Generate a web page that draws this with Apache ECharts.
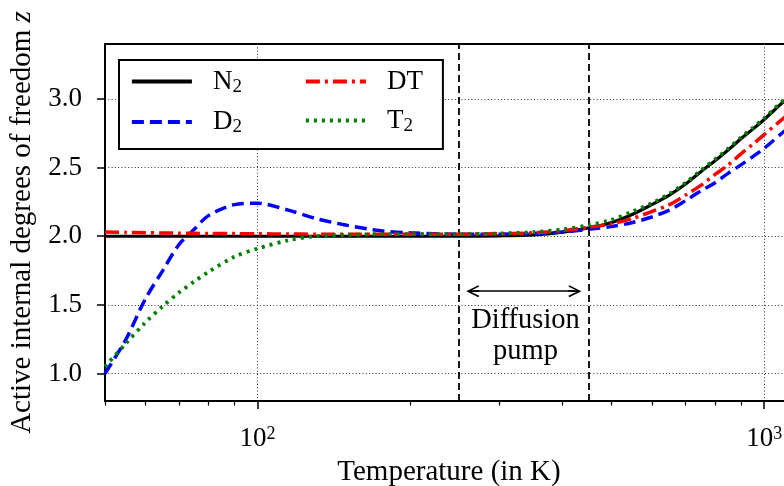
<!DOCTYPE html>
<html>
<head>
<meta charset="utf-8">
<script src="https://cdn.jsdelivr.net/npm/echarts@6/dist/echarts.min.js"></script>
<style>
html,body{margin:0;padding:0;background:#fff;overflow:hidden;}
#chart{width:830px;height:486px;}
</style>
</head>
<body>
<div id="chart"></div>
<script>
// ---- data ----
const temps = [50,55,60,65,70,75,80,90,100,115,130,150,175,200,250,300,350,400,450,500,550,600,650,700,750,800,850,900,950,1000,1100,1200];
const n2 = [2.0,2.0,2.0,2.0,2.0,2.0,2.0,2.0,2.0,2.0,2.0,2.0,2.0,2.0,2.0,2.003,2.01,2.03,2.06,2.10,2.16,2.23,2.30,2.38,2.47,2.55,2.63,2.71,2.78,2.85,2.99,3.10];
const d2 = [1.00,1.25,1.54,1.75,1.94,2.05,2.15,2.23,2.24,2.19,2.13,2.08,2.04,2.025,2.015,2.015,2.02,2.03,2.05,2.07,2.10,2.14,2.19,2.26,2.33,2.39,2.46,2.52,2.58,2.64,2.77,2.88];
const dt = [2.03,2.028,2.026,2.024,2.022,2.021,2.02,2.019,2.018,2.016,2.015,2.015,2.015,2.015,2.015,2.018,2.025,2.04,2.065,2.09,2.13,2.18,2.23,2.30,2.37,2.45,2.52,2.60,2.67,2.74,2.87,2.98];
const t2 = [1.05,1.22,1.37,1.49,1.59,1.67,1.74,1.85,1.91,1.97,2.00,2.01,2.015,2.015,2.015,2.02,2.03,2.05,2.08,2.12,2.18,2.24,2.31,2.39,2.48,2.56,2.64,2.72,2.79,2.86,3.00,3.11];
const yTicks = [1.0,1.5,2.0,2.5,3.0];
const xMajor = [100,1000];
const xMinor = [50,60,70,80,90,200,300,400,500,600,700,800,900];
const pumpBounds = [250,450];
const arrowFrom = [266,1.6], arrowTo = [423,1.6];
const pumpTextPos = [338,1.27];
const xRange = [50,1140], yRange = [0.8,3.4];
const legendCol1 = ['N2','D2'], legendCol2 = ['DT','T2'];

const FONT = 'Liberation Serif';
const chevron = 'path://M6,0 L12,12 L10.6,13 L6,3.6 L1.4,13 L0,12 Z M5.2,1 L6.8,1 L6.8,13 L5.2,13 Z';

function pairs(ys){ return temps.map((t,i)=>[t,ys[i]]); }

const chart = echarts.init(document.getElementById('chart'), null, {renderer:'canvas'});
const axisLineStyle = {color:'#000', width:2};
const gridDot = {color:'#333', width:1, type:[1,2.3]};

const legendLabels = {N2:'{sp|x}{m|N}{s|2}', D2:'{sp|x}{m|D}{s|2}', DT:'{sp|x}{m|DT}', T2:'{sp|x}{m|T}{s|2}'};
const legendText = {fontFamily:FONT, fontSize:27, color:'#000',
  rich:{sp:{width:16, fontSize:10, color:'rgba(0,0,0,0)'},
        m:{fontFamily:FONT, fontSize:27, color:'#000', lineHeight:30, verticalAlign:'middle'},
        s:{fontFamily:FONT, fontSize:19, color:'#000', lineHeight:18, verticalAlign:'bottom'}}};
const legendCommon = {orient:'vertical', itemGap:12, itemWidth:60, itemHeight:14,
  itemStyle:{opacity:0}, lineStyle:{width:3.8},
  formatter:(name)=>legendLabels[name], textStyle:legendText};

const option = {
  animation:false,
  backgroundColor:'#fff',
  grid:{left:105, top:44, right:37, bottom:85, show:true, borderColor:'#000', borderWidth:2, backgroundColor:'transparent',
        containLabel:false, outerBoundsMode:'none'},
  xAxis:[
    {type:'log', logBase:10, min:xRange[0], max:xRange[1],
     name:'Temperature (in K)', nameLocation:'middle', nameGap:50,
     nameTextStyle:{fontFamily:FONT, fontSize:29, color:'#000'},
     axisLine:{show:true, lineStyle:axisLineStyle},
     axisTick:{show:true, inside:false, length:8, lineStyle:{color:'#000', width:1.5}, customValues:xMajor},
     axisLabel:{show:true, margin:24, customValues:xMajor, fontFamily:FONT, fontSize:27, color:'#000',
       formatter:(v)=>'10{sup|'+Math.round(Math.log10(v))+'}',
       rich:{sup:{fontFamily:FONT, fontSize:18, color:'#000', verticalAlign:'top', padding:[0,0,10,0]}}},
     splitLine:{show:true, lineStyle:gridDot},
     minorTick:{show:false}, minorSplitLine:{show:false}},
    {type:'log', logBase:10, min:xRange[0], max:xRange[1], gridIndex:0, position:'bottom',
     axisLine:{show:false},
     axisTick:{show:true, length:4.5, lineStyle:{color:'#000', width:1.2}, customValues:xMinor},
     axisLabel:{show:false}, splitLine:{show:false}}
  ],
  yAxis:{type:'value', min:yRange[0], max:yRange[1],
     name:'Active internal degrees of freedom {i|z}', nameLocation:'middle', nameGap:64,
     nameTextStyle:{fontFamily:FONT, fontSize:29, color:'#000',
       rich:{i:{fontFamily:FONT, fontSize:29, fontStyle:'italic', color:'#000'}}},
     axisLine:{show:true, lineStyle:axisLineStyle},
     axisTick:{show:true, length:8, lineStyle:{color:'#000', width:1.5}, customValues:yTicks},
     axisLabel:{show:true, margin:23, customValues:yTicks, fontFamily:FONT, fontSize:27, color:'#000',
       formatter:(v)=>v.toFixed(1)},
     splitLine:{show:true, lineStyle:gridDot}},
  legend:[
    Object.assign({}, legendCommon, {
      left:119, top:60, padding:[8,201,12,11], z:10,
      borderColor:'#000', borderWidth:2, borderRadius:0, backgroundColor:'#fff',
      data:legendCol1}),
    Object.assign({}, legendCommon, {
      left:304, top:68, padding:0, z:11,
      borderWidth:0, backgroundColor:'transparent',
      data:legendCol2})
  ],
  series:[
    {name:'N2', type:'line', data:pairs(n2), symbol:'none', smooth:0.3, xAxisIndex:0,
     lineStyle:{color:'#000', width:3.2, type:'solid'}, itemStyle:{color:'#000'}, z:3,
     markLine:{silent:true, symbol:['none','none'], label:{show:false},
       lineStyle:{color:'#000', width:1.8, type:[7,4]},
       data:pumpBounds.map(v=>({xAxis:v}))}},
    {name:'D2', type:'line', data:pairs(d2), symbol:'none', smooth:0.3,
     lineStyle:{color:'#0000ff', width:3.5, type:[12,6]}, itemStyle:{color:'#0000ff'}, z:4},
    {name:'DT', type:'line', data:pairs(dt), symbol:'none', smooth:0.3,
     lineStyle:{color:'#ff0000', width:3.5, type:[14,5,3,5]}, itemStyle:{color:'#ff0000'}, z:5,
     markLine:{silent:true, symbol:[chevron, chevron], symbolSize:[12,13], label:{show:false},
       lineStyle:{color:'#000', width:1.6, type:'solid'},
       data:[[{coord:arrowFrom},{coord:arrowTo}]]},
     markPoint:{silent:true, symbol:'circle', symbolSize:0,
       label:{show:true, formatter:'Diffusion\npump', fontFamily:FONT, fontSize:28.5, color:'#000', lineHeight:31, align:'center'},
       data:[{coord:pumpTextPos}]}},
    {name:'T2', type:'line', data:pairs(t2), symbol:'none', smooth:0.3,
     lineStyle:{color:'#008000', width:3.8, type:[3,5]}, itemStyle:{color:'#008000'}, z:6}
  ]
};
chart.setOption(option);
</script>
</body>
</html>
